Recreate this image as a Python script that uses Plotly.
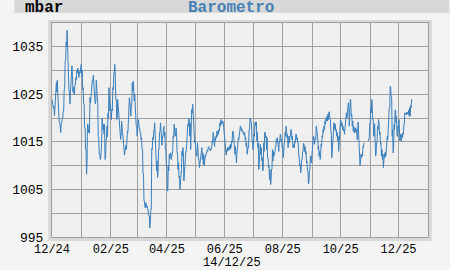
import plotly.graph_objects as go
import pandas as pd

# pressure readings (mbar), two readings per slot, in path order; None = missing
pressure_pairs = [
    [1024, 1023], [1023.5, 1022], [1022.5, 1020.5], [1022, 1025.3], [1025, 1027.5],
    [1025.5, 1028], [1025, 1021], [1021, 1019], [1019, 1017], [1017, 1019],
    [1019, 1020], [1020, 1021.5], [1021.5, 1026], [1026, 1032], [1032, 1036],
    [1035, 1038.5], [1035, 1029.5], [1029.5, 1025.5], [1025.5, 1023], [1025.5, 1029],
    [1028, 1031], [1029, 1025.5], [1026.5, 1025], [1025, 1027], [1027, 1028.5],
    [1028, 1030], [1029.5, 1030.5], [1030, 1028.5], [1029, 1029.8], [1029.5, 1031],
    [1031.3, 1028.8], [1030, 1026], [1026.4, 1023], [1023, 1018], [1018, 1013.4],
    [1013.4, 1008.2], [1010.6, 1018.7], [1018.7, 1017], [1017.7, 1016.8], [1024.3, 1023.2],
    [1024.3, 1026.5], [1026.5, 1028], [1028, 1029], [1027, 1024], [1024, 1023],
    [1023.5, 1028], [1026.5, 1023.2], [1023, 1016.2], [1016, 1012.4], [1012.5, 1011.3],
    [1011.5, 1013], [1014.8, 1019.9], [1018.7, 1017.5], [1018.7, 1016.6], [1018.7, 1011.3],
    [1011.7, 1015], [1015.9, 1018.3], [1016, 1021], [1020, 1026.4], [1024.8, 1021.5],
    [1023, 1019.7], [1019.7, 1021.8], [1021.5, 1026.4], [1026, 1029.5], [1029.5, 1031.3],
    [1029.5, 1024], [1024, 1019.7], [1020, 1023.9], [1022.5, 1019.7], [1020, 1017],
    [1017.3, 1015.5], [1016.2, 1019.4], [1018.3, 1017], [1015.5, 1013], [1013.4, 1012.2],
    [1013, 1014.1], [1014.3, 1013.4],
    [1015.9, 1017.3], [1017, 1021], [1021.5, 1024.3], [1023.6, 1021], [1020.4, 1023],
    [1022.9, 1027.4], [1025.7, 1027.8], [1025.7, 1023.6], [1025, 1022], [1022, 1018.3],
    [1018.3, 1016.2], [1017.6, 1019.7], [1019.4, 1018], [1018, 1017], [1017, 1015.5],
    [1015.9, 1013.4], [1013.4, 1008.2], [1008.2, 1002.6], [1002.6, 1001.2], [1001.2, 1002.2],
    [1001.8, 1001.2], [1001.5, 1000.5], [1000.8, 999.4], [999.4, 996.9], [998, 1000.8],
    [1000.8, 1013.6], [1013.4, 1015.9], [1015.5, 1017.3], [1017.3, 1019], [1017, 1012.7],
    [1012.7, 1008.9], [1011, 1007.5], [1008.9, 1013.4], [1013.4, 1017], [1017, 1019],
    [1016.2, 1014.5], [1014.3, 1016.2], [1016.2, 1017.6], [1018.3, 1015.9], [1017, 1013.4],
    [1013.4, 1010], [1010, 1004.7], [1004.7, 1010], [1008.9, 1012.4], [1011.5, 1012.4],
    [1012.7, 1011.3], [1012, 1013], [1013, 1016.2], [1015.9, 1018.7], [1017.6, 1016.2],
    [1016.8, 1017.9], [1017, 1012.7], [1012.7, 1009.2], [1010.6, 1007.5], [1007.8, 1005],
    [1006.4, 1009.2], [1009.2, 1013], [1012, 1013.8], [1012.7, 1006.8], [1008.5, 1011.3],
    [1011, 1013], [1013, 1016.2], [1016.2, 1018.7], [1018.3, 1020], [1019.7, 1016.2],
    [1019, 1013.4], [1019, 1021.8], [1021, 1022.9], [1021.5, 1017], [1017.6, 1014.8],
    [1015.2, 1013.4], [1014, 1012], [1012.2, 1014.8], [1013.4, 1011.3], [1011.3, 1009.6],
    [1010.5, 1012.4], [1012.1, 1013.2], [1013.8, 1011.3], [1012.7, 1010.3],
    [1012.2, 1010], [1011.3, 1012.2], [1012, 1012.7], [1012.7, 1013.3], [1013, 1013.8],
    [1014, 1013.5], [1013.3, 1013.6], [1013.1, 1013.6], [1013.6, 1015.2], [1014.8, 1017],
    [1016.8, 1014.8], [1014, 1015.9], [1015.2, 1016.2], [1015.9, 1017.3], [1016.2, 1017.3],
    [1016.6, 1017.6], [1017.3, 1019], [1018.3, 1019.7], [1019.4, 1018.7], [1019, 1019.4],
    [1019, 1017.6], [1017.3, 1015.2], [1015.2, 1012.7], [1012.2, 1013.4], [1013, 1013.8],
    [1013.2, 1013.9], [1013.4, 1014.2], [1013.4, 1014.5], [1013.8, 1015.2], [1014.8, 1017],
    [1017.3, 1016.5], [1014.8, 1012.4], [1012.4, 1014], [1012.4, 1010.6], [1012.4, 1014.8],
    [1014, 1015.9], [1015.5, 1017.3], [1017, 1018.3], [1018.3, 1017.3], [1017.8, 1017.1],
    [1017.3, 1016.7], [1016.9, 1016.4], [1017, 1015.5], [1015.9, 1014.1], [1014.8, 1012.4],
    [1012.9, 1014], [1013.8, 1017.6], [1017.6, 1019.9], [1019.9, 1019], [1019, 1015.2],
    [1015.2, 1013.4], [1013.9, 1016.6], [1016.2, 1019], [1019.2, 1018.3], [1019.2, 1015.2],
    [1017, 1013.8], [1014.8, 1009.2], [1011.3, 1014], [1014.5, 1012.4], [1013.8, 1011],
    [1011.7, 1008.9], [1009.2, 1014.8], [1013, 1017], [1017, 1015.9], [1016.2, 1013.4],
    [1015.9, 1011.7], [1011.7, 1009.6], [1010, 1007.1], [1009.2, 1006], [1006.4, 1009.2],
    [1009.2, 1013.4], [1011, 1013], [1012, 1012.7], [1012.7, 1014], [1014, 1015.5],
    [1014.8, 1015.9], [1014.8, 1013.4],
    [1013, 1015.2], [1014.8, 1016.6], [1016.6, 1015.2], [1015.5, 1013.8], [1014, 1011.7],
    [1012.4, 1014.8], [1014.8, 1017], [1016.2, 1018.3], [1017.6, 1015.9], [1016.6, 1013.8],
    [1014.5, 1016.2], [1014.8, 1016.2], [1016.2, 1017.6], [1017.3, 1015.5], [1016.2, 1013.8],
    [1013.8, 1014.5], [1013.8, 1015.2], [1014.8, 1016.6], [1016.6, 1015.5], [1015.9, 1014.8],
    [1014.8, 1012], [1012, 1010], [1010.3, 1008.5], [1009.2, 1011.3], [1011.3, 1013],
    [1013, 1014.7], [1014.5, 1013], [1014, 1012.4], [1013, 1010.6], [1011, 1008.9],
    [1008.9, 1006.2], [1006.4, 1008.9], [1009.2, 1012], [1012, 1010.6], [1012, 1014.5],
    [1013.8, 1016.2], [1016, 1014.5], [1014.8, 1015.9], [1015.5, 1018.3], [1017.6, 1015.9],
    [1015.9, 1013.4], [1014, 1012], [1013, 1011.3], [1012, 1014.5], [1014, 1016.2],
    [1015.9, 1017.6], [1017, 1018.3], [1017.6, 1019.4], [1018.7, 1020], [1019.4, 1020.4],
    [1019.4, 1020.8], [1019.7, 1021.3], [1021.3, 1020], [1019.7, 1017.3], [1016.6, 1011.7],
    [1013, 1014.8], [1016.6, 1019], [1019, 1017.6], [1018.7, 1017.3], [1017.6, 1016.2],
    [1017, 1015.2], [1016.2, 1013], [1015.2, 1018.3], [1018, 1019.7], [1019.4, 1018.3],
    [1019, 1017.6], [1018.3, 1017.3], [1017.6, 1016.6], [1017.6, 1019], [1018.7, 1021.1],
    [1020, 1021.8], [1021.1, 1023.2], [1022.2, 1018.3], [1021.8, 1024], [1023.6, 1020.4],
    [1020.8, 1018.3], [1019.4, 1017.3], [1018.3, 1016.9], [1017.8, 1017], [1018, 1017.2],
    [1017.6, 1015.5], [1016.2, 1019.2], [1015.9, 1013.4], [1013.4, 1010], [1011, 1012.4],
    [1011.7, 1012.4], [1012, 1014], [1013.8, 1014.8],
    [None, None], [None, None], [None, None], [None, None],
    [1015.2, 1015.9], [1015.9, 1019], [1019, 1022.2], [1021.1, 1023.9], [1022.9, 1019.7],
    [1019.7, 1016.2], [1016.2, 1018.8], [1015.5, 1012], [1012.5, 1014.8], [1014.8, 1018.3],
    [1017.6, 1019.7], [1019, 1016.5], [1017, 1014.5], [1014.8, 1012], [1013.4, 1011.3],
    [1012.4, 1009.6], [1011.3, 1012.5], [1011.7, 1012.9], [1012, 1014.8], [1014.5, 1016.2],
    [1015.5, 1019.7], [1019.4, 1022.2], [1022.2, 1026.7], [1026.6, 1024.3], [1024.3, 1016.2],
    [1017.6, 1012.7], [1013.8, 1018.7], [1017.6, 1021.7], [1021.7, 1019], [1020.4, 1016.2],
    [1016.2, 1018.3], [1017.6, 1019.7], [1018.3, 1015.2], [1016.6, 1015.2], [1015.2, 1016.6],
    [1015.9, 1016.9], [1016.6, 1018.7], [1018.7, 1021.1], [1020.8, 1021.1], [1020.7, 1021.2],
    [1020.9, 1021.3], [1020.8, 1021.7], [1020.4, 1022.2], [1020.4, 1022.6], [1022.2, 1024],
]

first_reading = "2024-12-01 00:00"
last_reading = "2025-12-14 18:00"

y_tick_values = [995, 1005, 1015, 1025, 1035]
x_tick_values = ["2024-12-01", "2025-02-01", "2025-04-01", "2025-06-01",
                 "2025-08-01", "2025-10-01", "2025-12-01"]
x_tick_labels = ["12/24", "02/25", "04/25", "06/25", "08/25", "10/25", "12/25"]

title_left = "mbar"
title_center = "Barometro"
footer_date = "14/12/25"

values = [v for pair in pressure_pairs for v in pair]
times = pd.date_range(first_reading, last_reading, periods=len(values))

W, H = 450, 270
L, R, T, B = 39, 22, 23, 33
pw, ph = W - L - R, H - T - B


def px_x(px):
    return (px - L) / pw


def px_y(py):
    return (H - B - py) / ph


GRID = "#a0a0a0"
MONO = "Liberation Mono, DejaVu Sans Mono, monospace"

fig = go.Figure()
fig.add_trace(go.Scatter(
    x=times, y=values, mode="lines",
    line=dict(color="#3a80bd", width=1),
    connectgaps=False, hoverinfo="skip", showlegend=False,
))

shapes = [
    # header band
    dict(type="rect", xref="paper", yref="paper", layer="below",
         x0=px_x(0), x1=px_x(W), y0=px_y(13), y1=px_y(0),
         fillcolor="#d8d8d8", line=dict(width=0)),
    # frame band
    dict(type="rect", xref="paper", yref="paper", layer="below",
         x0=px_x(35), x1=px_x(432), y0=px_y(241), y1=px_y(20),
         fillcolor="#d8d8d8", line=dict(width=0)),
    # plot background
    dict(type="rect", xref="paper", yref="paper", layer="below",
         x0=0, x1=1, y0=0, y1=1,
         fillcolor="#efefef", line=dict(width=0)),
]

annotations = [
    dict(text="<b>%s</b>" % title_left, xref="paper", yref="paper",
         x=px_x(9), y=px_y(8.5), xanchor="left", yanchor="middle", showarrow=False,
         font=dict(family=MONO, size=16, color="#000000")),
    dict(text="<b>%s</b>" % title_center, xref="paper", yref="paper",
         x=px_x(224), y=px_y(8.5), xanchor="center", yanchor="middle", showarrow=False,
         font=dict(family=MONO, size=16, color="#4682b4")),
    dict(text=footer_date, xref="paper", yref="paper",
         x=px_x(225), y=px_y(263), xanchor="center", yanchor="middle", showarrow=False,
         font=dict(family=MONO, size=12, color="#000000")),
]

fig.update_layout(
    width=W, height=H,
    margin=dict(l=L, r=R, t=T, b=B, pad=0),
    paper_bgcolor="#f4f4f4",
    plot_bgcolor="rgba(0,0,0,0)",
    shapes=shapes,
    annotations=annotations,
    showlegend=False,
    xaxis=dict(
        type="date",
        range=["2024-12-01", "2026-01-01"],
        tickmode="array", tickvals=x_tick_values, ticktext=x_tick_labels,
        showgrid=True, gridcolor=GRID, gridwidth=1,
        minor=dict(dtick="M1", tick0="2024-12-01", showgrid=True, gridcolor=GRID, gridwidth=1),
        showline=True, linecolor=GRID, linewidth=1, mirror=True,
        ticks="", ticklabelstandoff=1,
        tickfont=dict(family=MONO, size=12, color="#000000"),
        zeroline=False, fixedrange=True,
    ),
    yaxis=dict(
        range=[995, 1040],
        tickmode="array", tickvals=y_tick_values,
        showgrid=True, gridcolor=GRID, gridwidth=1,
        minor=dict(dtick=5, tick0=995, showgrid=True, gridcolor=GRID, gridwidth=1),
        showline=True, linecolor=GRID, linewidth=1, mirror=True,
        ticks="", ticklabelstandoff=5,
        tickfont=dict(family=MONO, size=13, color="#000000"),
        zeroline=False, fixedrange=True,
    ),
)

fig.write_html("out.html", config={"displayModeBar": False})
